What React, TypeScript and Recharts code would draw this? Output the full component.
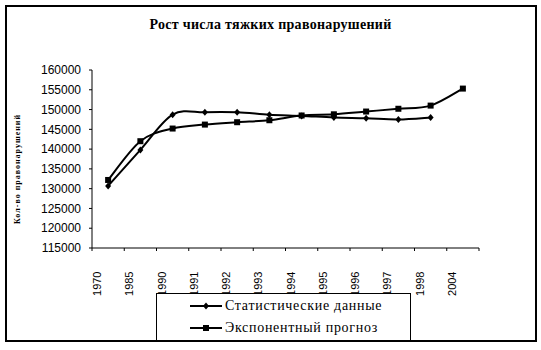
import React from "react";
import { Legend, Line, LineChart, XAxis, YAxis } from "recharts";

// ─── Data ────────────────────────────────────────────────────
const YEARS = ["1970", "1985", "1990", "1991", "1992", "1993", "1994", "1995", "1996", "1997", "1998", "2004"];
const STAT_DATA = [130700, 139800, 148700, 149300, 149300, 148700, 148400, 148000, 147800, 147500, 148000, null];
const EXP_FORECAST = [132200, 142000, 145200, 146200, 146800, 147300, 148500, 148800, 149500, 150200, 151000, 155300];
const Y_TICKS = [115000, 120000, 125000, 130000, 135000, 140000, 145000, 150000, 155000, 160000];

const chartData = YEARS.map((year, i) => ({
  year,
  stat: STAT_DATA[i],
  exp: EXP_FORECAST[i],
}));

// ─── Layout ──────────────────────────────────────────────────
const W = 541;
const H = 350;
const MARGIN = { top: 70, right: 62, left: 32, bottom: 0 };
const Y_AXIS_W = 60;
const X_AXIS_H = 102;
const HALF_BAND = (W - MARGIN.left - Y_AXIS_W - MARGIN.right) / YEARS.length / 2;

const SANS = "'Liberation Sans', Arial, sans-serif";
const SERIF = "'Liberation Serif', 'Times New Roman', serif";

// Excel-like smoothed line (Catmull-Rom through the points)
function excelSmooth(context: any) {
  let pts: [number, number][] = [];
  return {
    areaStart() {},
    areaEnd() {},
    lineStart() {
      pts = [];
    },
    point(x: number, y: number) {
      pts.push([+x, +y]);
    },
    lineEnd() {
      if (!pts.length) return;
      context.moveTo(pts[0][0], pts[0][1]);
      for (let i = 0; i < pts.length - 1; i++) {
        const p0 = pts[i - 1] || pts[i];
        const p1 = pts[i];
        const p2 = pts[i + 1];
        const p3 = pts[i + 2] || p2;
        context.bezierCurveTo(
          p1[0] + (p2[0] - p0[0]) / 6,
          p1[1] + (p2[1] - p0[1]) / 6,
          p2[0] - (p3[0] - p1[0]) / 6,
          p2[1] - (p3[1] - p1[1]) / 6,
          p2[0],
          p2[1]
        );
      }
    },
  };
}

function Diamond({ cx, cy }: { cx?: number; cy?: number }) {
  if (cx == null || cy == null) return null;
  return <path d={`M${cx},${cy - 3.5}L${cx + 3},${cy}L${cx},${cy + 3.5}L${cx - 3},${cy}Z`} fill="#000" />;
}

function Square({ cx, cy }: { cx?: number; cy?: number }) {
  if (cx == null || cy == null) return null;
  return <rect x={cx - 3} y={cy - 3} width={6} height={6} fill="#000" />;
}

// category ticks sit on band boundaries, labels rotated
function YearTick(props: any) {
  const { x, y, payload, index } = props;
  const x0 = x - HALF_BAND;
  return (
    <g>
      <line x1={x0} y1={y} x2={x0} y2={y + 3} stroke="#000" />
      {index === YEARS.length - 1 && <line x1={x + HALF_BAND} y1={y} x2={x + HALF_BAND} y2={y + 3} stroke="#000" />}
      <text
        transform={`translate(${x0 + 5},${y + 23.5}) rotate(-90)`}
        textAnchor="end"
        dominantBaseline="central"
        fontFamily={SANS}
        fontSize={11}
        fill="#000"
      >
        {payload.value}
      </text>
    </g>
  );
}

function LegendBox({ payload }: any) {
  return (
    <div
      style={{
        width: 255,
        height: 48,
        boxSizing: "border-box",
        border: "1px solid #000",
        background: "#fff",
        paddingTop: 1,
      }}
    >
      {(payload || []).map((p: any) => (
        <div key={p.dataKey} style={{ display: "flex", alignItems: "center", height: 22, paddingLeft: 33 }}>
          <svg width={32} height={10} style={{ display: "block" }}>
            <line x1={0} y1={5} x2={32} y2={5} stroke="#000" strokeWidth={2} />
            {p.dataKey === "stat" ? <Diamond cx={16} cy={5} /> : <Square cx={16} cy={5} />}
          </svg>
          <span style={{ fontFamily: SERIF, fontSize: 14, letterSpacing: 0.7, marginLeft: 3, color: "#000" }}>
            {p.value}
          </span>
        </div>
      ))}
    </div>
  );
}

export default function App() {
  return (
    <div style={{ position: "absolute", left: 0, top: 0, width: W, height: H, background: "#fff" }}>
      <div
        style={{
          position: "absolute",
          left: 5,
          top: 5,
          width: 528,
          height: 333,
          border: "2px solid #000",
        }}
      />
      <div
        style={{
          position: "absolute",
          left: 0,
          top: 17,
          width: W,
          textAlign: "center",
          fontFamily: SERIF,
          fontWeight: "bold",
          fontSize: 14,
          letterSpacing: 0.3,
        }}
      >
        Рост числа тяжких правонарушений
      </div>
      <div style={{ position: "absolute", left: 0, top: 0 }}>
        <LineChart width={W} height={H} data={chartData} margin={MARGIN}>
          <XAxis
            dataKey="year"
            scale="band"
            interval={0}
            height={X_AXIS_H}
            stroke="#000"
            tickLine={false}
            tickSize={0}
            tickMargin={0}
            tick={<YearTick />}
          />
          <YAxis
            width={Y_AXIS_W}
            domain={[115000, 160000]}
            ticks={Y_TICKS}
            interval={0}
            stroke="#000"
            tickSize={3}
            tickMargin={8}
            tick={{ fontFamily: SANS, fontSize: 12, fill: "#000" }}
            label={{
              content: ({ viewBox }: any) => (
                <text
                  transform={`translate(${viewBox.x - 15},${viewBox.y + viewBox.height / 2 + 10}) rotate(-90)`}
                  textAnchor="middle"
                  dominantBaseline="central"
                  fontFamily={SERIF}
                  fontWeight="bold"
                  fontSize={8}
                  letterSpacing={1}
                  fill="#000"
                >
                  Кол-во правонарушений
                </text>
              ),
            }}
          />
          <Line
            dataKey="stat"
            name="Статистические данные"
            type={excelSmooth as any}
            stroke="#000"
            strokeWidth={2}
            dot={<Diamond />}
            activeDot={false}
            connectNulls={false}
            isAnimationActive={false}
          />
          <Line
            dataKey="exp"
            name="Экспонентный прогноз"
            type={excelSmooth as any}
            stroke="#000"
            strokeWidth={2}
            dot={<Square />}
            activeDot={false}
            isAnimationActive={false}
          />
          <Legend
            layout="horizontal"
            verticalAlign="middle"
            align="center"
            content={<LegendBox />}
            wrapperStyle={{ left: 156, top: 293, width: 255, height: 48, zIndex: 5 }}
          />
        </LineChart>
      </div>
    </div>
  );
}
